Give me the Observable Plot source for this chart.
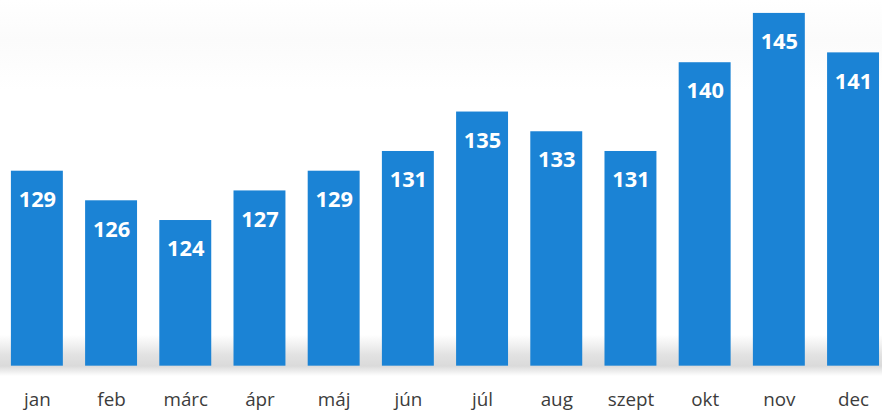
<!DOCTYPE html>
<html>
<head>
<meta charset="utf-8">
<script src="https://cdn.jsdelivr.net/npm/d3@7"></script>
<script src="https://cdn.jsdelivr.net/npm/@observablehq/plot@0.6"></script>
<style>
  html, body { margin: 0; padding: 0; background: #ffffff; }
  #wrap { width: 882px; height: 413px; overflow: hidden; position: relative;
    background: linear-gradient(to bottom, #ffffff 0px, #fbfbfb 40px, #ffffff 90px, #ffffff 335px, #e2e2e2 355px, #dadada 366px, #ffffff 376px, #ffffff 413px); }
</style>
</head>
<body>
<div id="wrap"></div>
<script>
const months = ["jan", "feb", "márc", "ápr", "máj", "jún", "júl", "aug", "szept", "okt", "nov", "dec"];
const values = [129, 126, 124, 127, 129, 131, 135, 133, 131, 140, 145, 141];

const data = months.map((m, i) => ({month: m, value: values[i]}));

const chart = Plot.plot({
  width: 890,
  height: 413,
  marginLeft: 11,
  marginRight: 3,
  marginTop: 0,
  marginBottom: 44,
  style: {background: "transparent", overflow: "visible"},
  x: {domain: months, paddingInner: 0.3, paddingOuter: 0, round: false, label: null},
  y: {domain: [109.23, 146.31], axis: null},
  marks: [
    Plot.barY(data, {x: "month", y1: 109.23, y2: "value", fill: "#1b83d5"}),
    Plot.text(data, {x: "month", y: "value", text: d => String(d.value), dy: 29,
      fill: "#ffffff", fontSize: 22, fontWeight: "bold", fontFamily: "Open Sans"}),
    Plot.axisX({tickSize: 0, tickPadding: 27, fontSize: 19, fontFamily: "Open Sans",
      color: "#3c3c3c", label: null})
  ]
});
document.getElementById("wrap").appendChild(chart);
</script>
</body>
</html>
